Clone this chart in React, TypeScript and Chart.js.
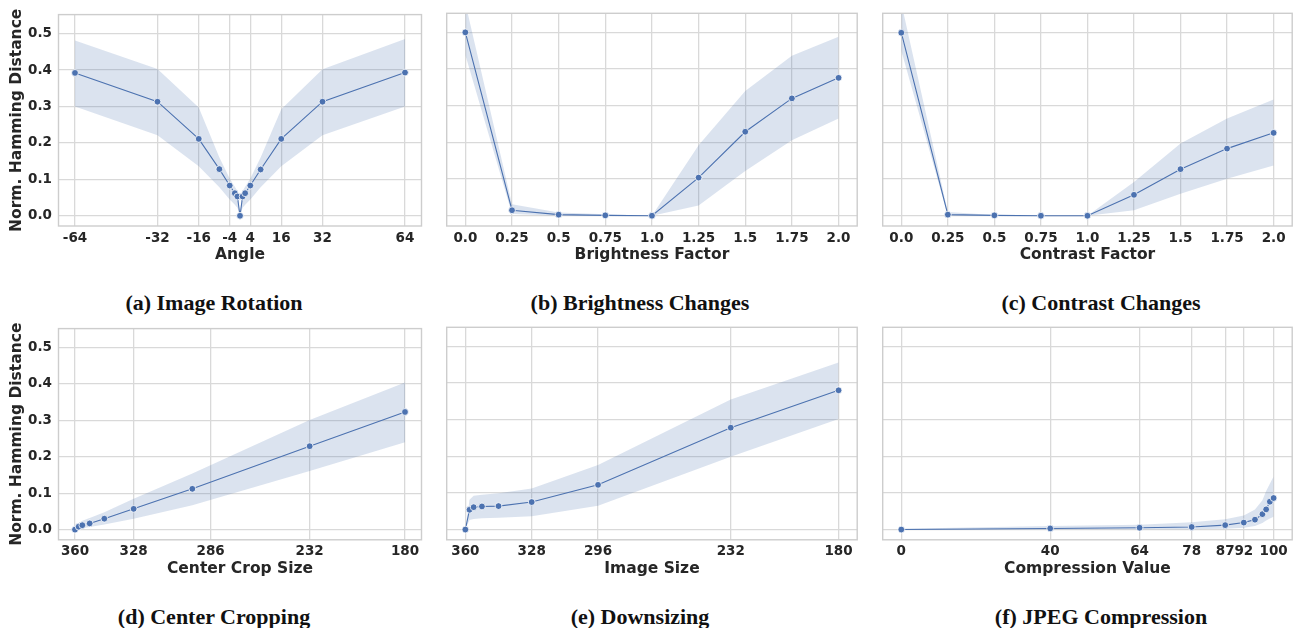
import React, { useEffect, useRef } from "react";
import { Chart, registerables } from "chart.js";

Chart.register(...registerables);

// ---------- data ----------
const angleX = [-64, -32, -16, -8, -4, -2, -1, 0, 1, 2, 4, 8, 16, 32, 64];
const angleMean = [0.392, 0.313, 0.211, 0.128, 0.083, 0.062, 0.053, 0, 0.053, 0.062, 0.083, 0.127, 0.211, 0.313, 0.393];
const angleLow = [0.300, 0.221, 0.136, 0.078, 0.045, 0.030, 0.022, 0, 0.022, 0.030, 0.045, 0.078, 0.136, 0.221, 0.300];
const angleHigh = [0.481, 0.403, 0.297, 0.160, 0.102, 0.080, 0.068, 0, 0.068, 0.080, 0.102, 0.160, 0.292, 0.402, 0.485];
const angleTicks = [-64, -32, -16, -4, 4, 16, 32, 64];
const angleTickLabels = ["-64", "-32", "-16", "-4", "4", "16", "32", "64"];

const factorX = [0, 0.25, 0.5, 0.75, 1.0, 1.25, 1.5, 1.75, 2.0];
const factorTicks = [0, 0.25, 0.5, 0.75, 1.0, 1.25, 1.5, 1.75, 2.0];
const factorTickLabels = ["0.0", "0.25", "0.5", "0.75", "1.0", "1.25", "1.5", "1.75", "2.0"];

const brightMean = [0.5, 0.015, 0.003, 0.001, 0, 0.104, 0.229, 0.32, 0.376];
const brightLow = [0.438, 0.005, 0, 0, 0, 0.028, 0.122, 0.206, 0.265];
const brightHigh = [0.58, 0.031, 0.009, 0.004, 0, 0.192, 0.34, 0.436, 0.488];

const contrastMean = [0.499, 0.003, 0.001, 0, 0, 0.057, 0.127, 0.183, 0.226];
const contrastLow = [0.45, 0, 0, 0, 0, 0.015, 0.06, 0.101, 0.137];
const contrastHigh = [0.58, 0.01, 0.002, 0, 0, 0.092, 0.197, 0.265, 0.317];

const sizeX = [360, 358, 356, 352, 344, 328, 296, 232, 180];

const cropMean = [0, 0.008, 0.012, 0.017, 0.030, 0.057, 0.112, 0.229, 0.323];
const cropLow = [0, 0.002, 0.004, 0.007, 0.014, 0.030, 0.067, 0.161, 0.240];
const cropHigh = [0, 0.018, 0.024, 0.032, 0.048, 0.085, 0.154, 0.301, 0.404];
const cropTicks = [360, 328, 286, 232, 180];
const cropTickLabels = ["360", "328", "286", "232", "180"];

const downMean = [0, 0.054, 0.061, 0.063, 0.064, 0.075, 0.122, 0.278, 0.38];
const downLow = [0, 0.026, 0.029, 0.031, 0.032, 0.036, 0.065, 0.199, 0.302];
const downHigh = [0, 0.081, 0.092, 0.095, 0.099, 0.112, 0.176, 0.355, 0.456];
const downTicks = [360, 328, 296, 232, 180];
const downTickLabels = ["360", "328", "296", "232", "180"];

const qualityX = [0, 40, 64, 78, 87, 92, 95, 97, 98, 99, 100];
const jpegMean = [0, 0.003, 0.005, 0.007, 0.012, 0.019, 0.027, 0.042, 0.055, 0.076, 0.086];
const jpegLow = [0, 0, 0.001, 0.001, 0.002, 0.005, 0.010, 0.018, 0.025, 0.030, 0.035];
const jpegHigh = [0.002, 0.010, 0.013, 0.020, 0.028, 0.038, 0.055, 0.080, 0.105, 0.125, 0.145];
const qualityTicks = [0, 40, 64, 78, 87, 92, 100];
const qualityTickLabels = ["0", "40", "64", "78", "87", "92", "100"];

const yTicks = [0, 0.1, 0.2, 0.3, 0.4, 0.5];
const yLabel = "Norm. Hamming Distance";

// ---------- styling ----------
const LINE = "#4c72b0";
const BAND = "rgba(76,114,176,0.2)";
const GRID = "#d9d9d9";
const FRAME = "#cdcdcd";
const TEXT = "#262626";
const SANS = "'DejaVu Sans', sans-serif";

type PanelSpec = {
  key: string;
  xs: number[];
  mean: number[];
  low: number[];
  high: number[];
  ticks: number[];
  tickLabels: string[];
  xMin: number;
  xMax: number;
  reverse: boolean;
  xTitle: string;
  caption: string;
  col: number;
  row: number;
};

const panels: PanelSpec[] = [
  { key: "a", xs: angleX, mean: angleMean, low: angleLow, high: angleHigh, ticks: angleTicks, tickLabels: angleTickLabels, xMin: -70.4, xMax: 70.4, reverse: false, xTitle: "Angle", caption: "(a) Image Rotation", col: 0, row: 0 },
  { key: "b", xs: factorX, mean: brightMean, low: brightLow, high: brightHigh, ticks: factorTicks, tickLabels: factorTickLabels, xMin: -0.1, xMax: 2.1, reverse: false, xTitle: "Brightness Factor", caption: "(b) Brightness Changes", col: 1, row: 0 },
  { key: "c", xs: factorX, mean: contrastMean, low: contrastLow, high: contrastHigh, ticks: factorTicks, tickLabels: factorTickLabels, xMin: -0.1, xMax: 2.1, reverse: false, xTitle: "Contrast Factor", caption: "(c) Contrast Changes", col: 2, row: 0 },
  { key: "d", xs: sizeX, mean: cropMean, low: cropLow, high: cropHigh, ticks: cropTicks, tickLabels: cropTickLabels, xMin: 171, xMax: 369, reverse: true, xTitle: "Center Crop Size", caption: "(d) Center Cropping", col: 0, row: 1 },
  { key: "e", xs: sizeX, mean: downMean, low: downLow, high: downHigh, ticks: downTicks, tickLabels: downTickLabels, xMin: 171, xMax: 369, reverse: true, xTitle: "Image Size", caption: "(e) Downsizing", col: 1, row: 1 },
  { key: "f", xs: qualityX, mean: jpegMean, low: jpegLow, high: jpegHigh, ticks: qualityTicks, tickLabels: qualityTickLabels, xMin: -5, xMax: 105, reverse: false, xTitle: "Compression Value", caption: "(f) JPEG Compression", col: 2, row: 1 },
];

// layout geometry (page pixels)
const COLS = [
  { canvasLeft: 0, width: 430, yAxisW: 58.5, chartRight: 421.5, captionX: 214 },
  { canvasLeft: 430, width: 432, yAxisW: 16.7, chartRight: 857.3, captionX: 640 },
  { canvasLeft: 866, width: 431, yAxisW: 16.7, chartRight: 1293.3, captionX: 1101 },
];
const ROWS = [
  { canvasTop: 0, chartTop: 13.3, chartBottom: 226, captionY: 302.5 },
  { canvasTop: 314, chartTop: 327.3, chartBottom: 539.8, captionY: 616.5 },
];
const CANVAS_H = 270;

const framePlugin = {
  id: "frame",
  afterDatasetsDraw(chart: any) {
    const { ctx, chartArea } = chart;
    ctx.save();
    ctx.strokeStyle = FRAME;
    ctx.lineWidth = 1.4;
    ctx.strokeRect(chartArea.left, chartArea.top, chartArea.right - chartArea.left, chartArea.bottom - chartArea.top);
    ctx.restore();
  },
};

function Panel({ spec }: { spec: PanelSpec }) {
  const ref = useRef<HTMLCanvasElement>(null);
  const col = COLS[spec.col];
  const row = ROWS[spec.row];

  useEffect(() => {
    const canvas = ref.current;
    if (!canvas) return;
    const pts = (ys: number[]) => spec.xs.map((x, i) => ({ x, y: ys[i] }));
    const showY = spec.col === 0;
    const xScaleH = row.canvasTop + CANVAS_H - row.chartBottom;
    const chart = new Chart(canvas, {
      type: "line",
      data: {
        datasets: [
          {
            data: pts(spec.mean),
            borderColor: LINE,
            borderWidth: 1.1,
            pointRadius: 3.4,
            pointBackgroundColor: LINE,
            pointBorderColor: "#ffffff",
            pointBorderWidth: 0.8,
            fill: false,
            tension: 0,
          },
          {
            data: pts(spec.high),
            borderColor: "rgba(0,0,0,0)",
            borderWidth: 0,
            pointRadius: 0,
            fill: false,
          },
          {
            data: pts(spec.low),
            borderColor: "rgba(0,0,0,0)",
            borderWidth: 0,
            pointRadius: 0,
            backgroundColor: BAND,
            fill: "-1",
          },
        ],
      },
      options: {
        animation: false,
        responsive: false,
        devicePixelRatio: 1,
        events: [],
        layout: {
          padding: {
            top: row.chartTop - row.canvasTop,
            right: col.canvasLeft + col.width - col.chartRight,
            left: 0,
            bottom: 0,
          },
        },
        plugins: { legend: { display: false }, tooltip: { enabled: false } },
        scales: {
          x: {
            type: "linear",
            min: spec.xMin,
            max: spec.xMax,
            reverse: spec.reverse,
            afterBuildTicks: (s: any) => {
              s.ticks = spec.ticks.map((v) => ({ value: v }));
            },
            afterFit: (s: any) => {
              s.height = xScaleH;
            },
            ticks: {
              autoSkip: false,
              maxRotation: 0,
              minRotation: 0,
              padding: 4,
              color: TEXT,
              font: { family: SANS, weight: "bold", size: 13.5 },
              callback: (_v: any, i: number) => spec.tickLabels[i],
            },
            grid: { color: GRID, lineWidth: 1.3, drawTicks: false },
            border: { display: false },
            title: {
              display: true,
              text: spec.xTitle,
              color: TEXT,
              font: { family: SANS, weight: "bold", size: 15.5 },
              padding: { top: 0, bottom: 5.4 },
            },
          },
          y: {
            type: "linear",
            min: -0.028,
            max: 0.552,
            afterBuildTicks: (s: any) => {
              s.ticks = yTicks.map((v) => ({ value: v }));
            },
            afterFit: (s: any) => {
              s.width = col.yAxisW;
            },
            ticks: {
              display: showY,
              padding: 6.5,
              color: TEXT,
              font: { family: SANS, weight: "bold", size: 13.5 },
              callback: (v: any) => Number(v).toFixed(1),
            },
            grid: { color: GRID, lineWidth: 1.3, drawTicks: false },
            border: { display: false },
            title: {
              display: showY,
              text: yLabel,
              color: TEXT,
              font: { family: SANS, weight: "bold", size: 15.5 },
              padding: { top: 7.4, bottom: 0 },
            },
          },
        },
      },
      plugins: [framePlugin],
    } as any);
    return () => chart.destroy();
  }, []);

  return (
    <>
      <canvas
        ref={ref}
        width={col.width}
        height={CANVAS_H}
        style={{ position: "absolute", left: col.canvasLeft, top: row.canvasTop, width: col.width, height: CANVAS_H }}
      />
      <div
        style={{
          position: "absolute",
          left: col.captionX - 200,
          width: 400,
          top: row.captionY - 12.8,
          textAlign: "center",
          fontFamily: "'Liberation Serif', 'Times New Roman', serif",
          fontWeight: "bold",
          fontSize: 22,
          lineHeight: "25px",
          color: "#111",
          whiteSpace: "nowrap",
        }}
      >
        {spec.caption}
      </div>
    </>
  );
}

export default function App() {
  return (
    <div style={{ position: "absolute", left: 0, top: 0, width: 1297, height: 628, background: "#fff", overflow: "hidden" }}>
      {panels.map((p) => (
        <Panel key={p.key} spec={p} />
      ))}
    </div>
  );
}
